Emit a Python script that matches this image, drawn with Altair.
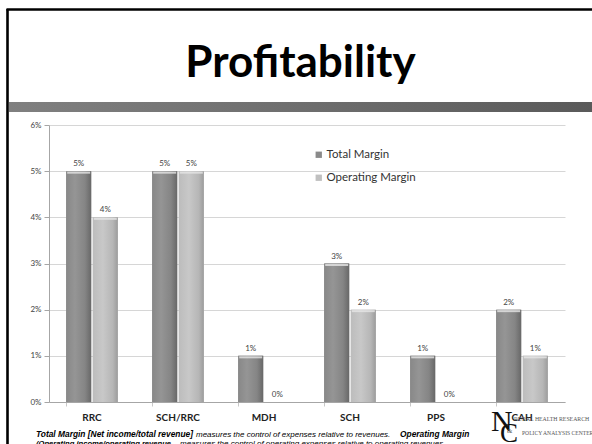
import altair as alt
import pandas as pd

categories = ["RRC", "SCH/RRC", "MDH", "SCH", "PPS", "CAH"]
series = ["Total Margin", "Operating Margin"]
total_margin = [0.05, 0.05, 0.01, 0.03, 0.01, 0.02]
operating_margin = [0.04, 0.05, 0.00, 0.02, 0.00, 0.01]
y_ticks = [0, 0.01, 0.02, 0.03, 0.04, 0.05, 0.06]

title_text = "Profitability"
note1 = ["Total Margin [Net income/total revenue]",
         " measures the control of expenses relative to revenues.",
         "Operating Margin"]
note2 = ["(Operating income/operating revenue",
         " measures  the control of operating expenses relative to operating revenues."]

rows = []
for c, t, o in zip(categories, total_margin, operating_margin):
    rows.append({"category": c, "series": series[0], "value": t})
    rows.append({"category": c, "series": series[1], "value": o})
df = pd.DataFrame(rows)

FONT = "Lato"
NOTE_FONT = "Liberation Sans"

def grad(stops):
    return alt.Gradient(
        gradient="linear", x1=0, x2=1, y1=0, y2=0,
        stops=[alt.GradientStop(color=c, offset=o) for o, c in stops],
    )

dark_grad = grad([(0, "#888888"), (0.35, "#959595"), (0.75, "#858585"), (1, "#686868")])
light_grad = grad([(0, "#bcbcbc"), (0.4, "#c8c8c8"), (0.8, "#b6b6b6"), (1, "#9c9c9c")])

x_enc = alt.X("category:N", sort=categories,
              scale=alt.Scale(paddingInner=0.4, paddingOuter=0.2),
              axis=alt.Axis(title=None, labelAngle=0, labelFontSize=10,
                            labelFontWeight="bold", labelColor="#222222",
                            labelFont=FONT, labelPadding=6, tickSize=4,
                            bandPosition=0, domainColor="#a6a6a6",
                            tickColor="#c8c8c8"))
xo_enc = alt.XOffset("series:N", sort=series,
                     scale=alt.Scale(domain=series, paddingInner=0.06))
y_enc = alt.Y("value:Q", scale=alt.Scale(domain=[0, 0.06], nice=False),
              axis=alt.Axis(title=None, values=y_ticks, format=".0%",
                            labelFontSize=8, labelColor="#444444", labelFont=FONT,
                            tickSize=5, tickColor="#a6a6a6", domainColor="#a6a6a6",
                            gridColor="#d6d6d6", labelPadding=3))

base = alt.Chart(df).encode(x=x_enc, xOffset=xo_enc, y=y_enc)

bars = base.mark_bar().encode(
    color=alt.Color("series:N", sort=series,
                    scale=alt.Scale(domain=series, range=["#8a8a8a", "#c0c0c0"]),
                    legend=alt.Legend(title=None, orient="none", legendX=264,
                                      legendY=24, symbolType="square",
                                      symbolSize=40, labelFontSize=11.5,
                                      labelFont=FONT, labelColor="#333333",
                                      rowPadding=10, labelOffset=2))
)
bars_dark = base.transform_filter(alt.datum.series == series[0]).mark_bar(fill=dark_grad)
bars_light = base.transform_filter(alt.datum.series == series[1]).mark_bar(fill=light_grad)
caps = base.transform_filter(alt.datum.value > 0).mark_tick(
    thickness=2, size=23, yOffset=1.5, color="#e6e6e6", opacity=0.8)

labels = base.mark_text(dy=-5, baseline="alphabetic", fontSize=8,
                        color="#444444", font=FONT).encode(
    text=alt.Text("value:Q", format=".0%"))

one = pd.DataFrame({"t": [title_text]})

border_left = alt.Chart(one).mark_rule(color="black", strokeWidth=2.6).encode(
    x=alt.value(-41.5), y=alt.value(-116), y2=alt.value(320))
border_top = alt.Chart(one).mark_rule(color="black", strokeWidth=2.6).encode(
    x=alt.value(-42.5), x2=alt.value(545), y=alt.value(-115.5))
band = alt.Chart(one).mark_rect(
    fill=grad([(0, "#808080"), (0.5, "#6e6e6e"), (1, "#5a5a5a")])).encode(
    x=alt.value(-40), x2=alt.value(545), y=alt.value(-23), y2=alt.value(-13))
title = alt.Chart(one).mark_text(font=FONT, fontSize=44, fontWeight="bold",
                                 color="#000000", align="center",
                                 baseline="alphabetic").encode(
    text="t:N", x=alt.value(251.5), y=alt.value(-48))

def note(txt, x, y, bold, size):
    return alt.Chart(pd.DataFrame({"t": [txt]})).mark_text(
        font=NOTE_FONT, fontSize=size, fontStyle="italic",
        fontWeight="bold" if bold else "normal", color="#000000",
        align="left", baseline="alphabetic").encode(
        text="t:N", x=alt.value(x), y=alt.value(y))

notes = [
    note(note1[0], -13, 312, True, 8.4),
    note(note1[1], 147, 312, False, 8.0),
    note(note1[2], 351, 312, True, 8.4),
    note(note2[0], -13, 321, True, 7.6),
    note(note2[1], 131, 321, False, 8.0),
]

def logo(txt, x, y, size, color="#111111"):
    return alt.Chart(pd.DataFrame({"t": [txt]})).mark_text(
        font="Liberation Serif", fontSize=size, color=color,
        align="left", baseline="alphabetic").encode(
        text="t:N", x=alt.value(x), y=alt.value(y))

logos = [
    logo("N", 442, 306, 30),
    logo("C", 451, 317, 27),
    logo("&", 458, 308, 7, "#555555"),
    logo("RURAL HEALTH RESEARCH", 465, 296, 5.8, "#555555"),
    logo("POLICY ANALYSIS CENTER", 473, 310, 5.6, "#555555"),
]

chart = alt.layer(
    band, border_left, border_top, title,
    bars, bars_dark, bars_light, caps, labels,
    *notes, *logos,
).properties(
    width=516, height=277,
    autosize=alt.AutoSizeParams(type="none"),
    padding={"left": 49, "top": 125, "right": 27, "bottom": 42},
    background="white",
).configure_view(stroke=None)

chart.save("out.html", embed_options={"renderer": "svg", "actions": False})
